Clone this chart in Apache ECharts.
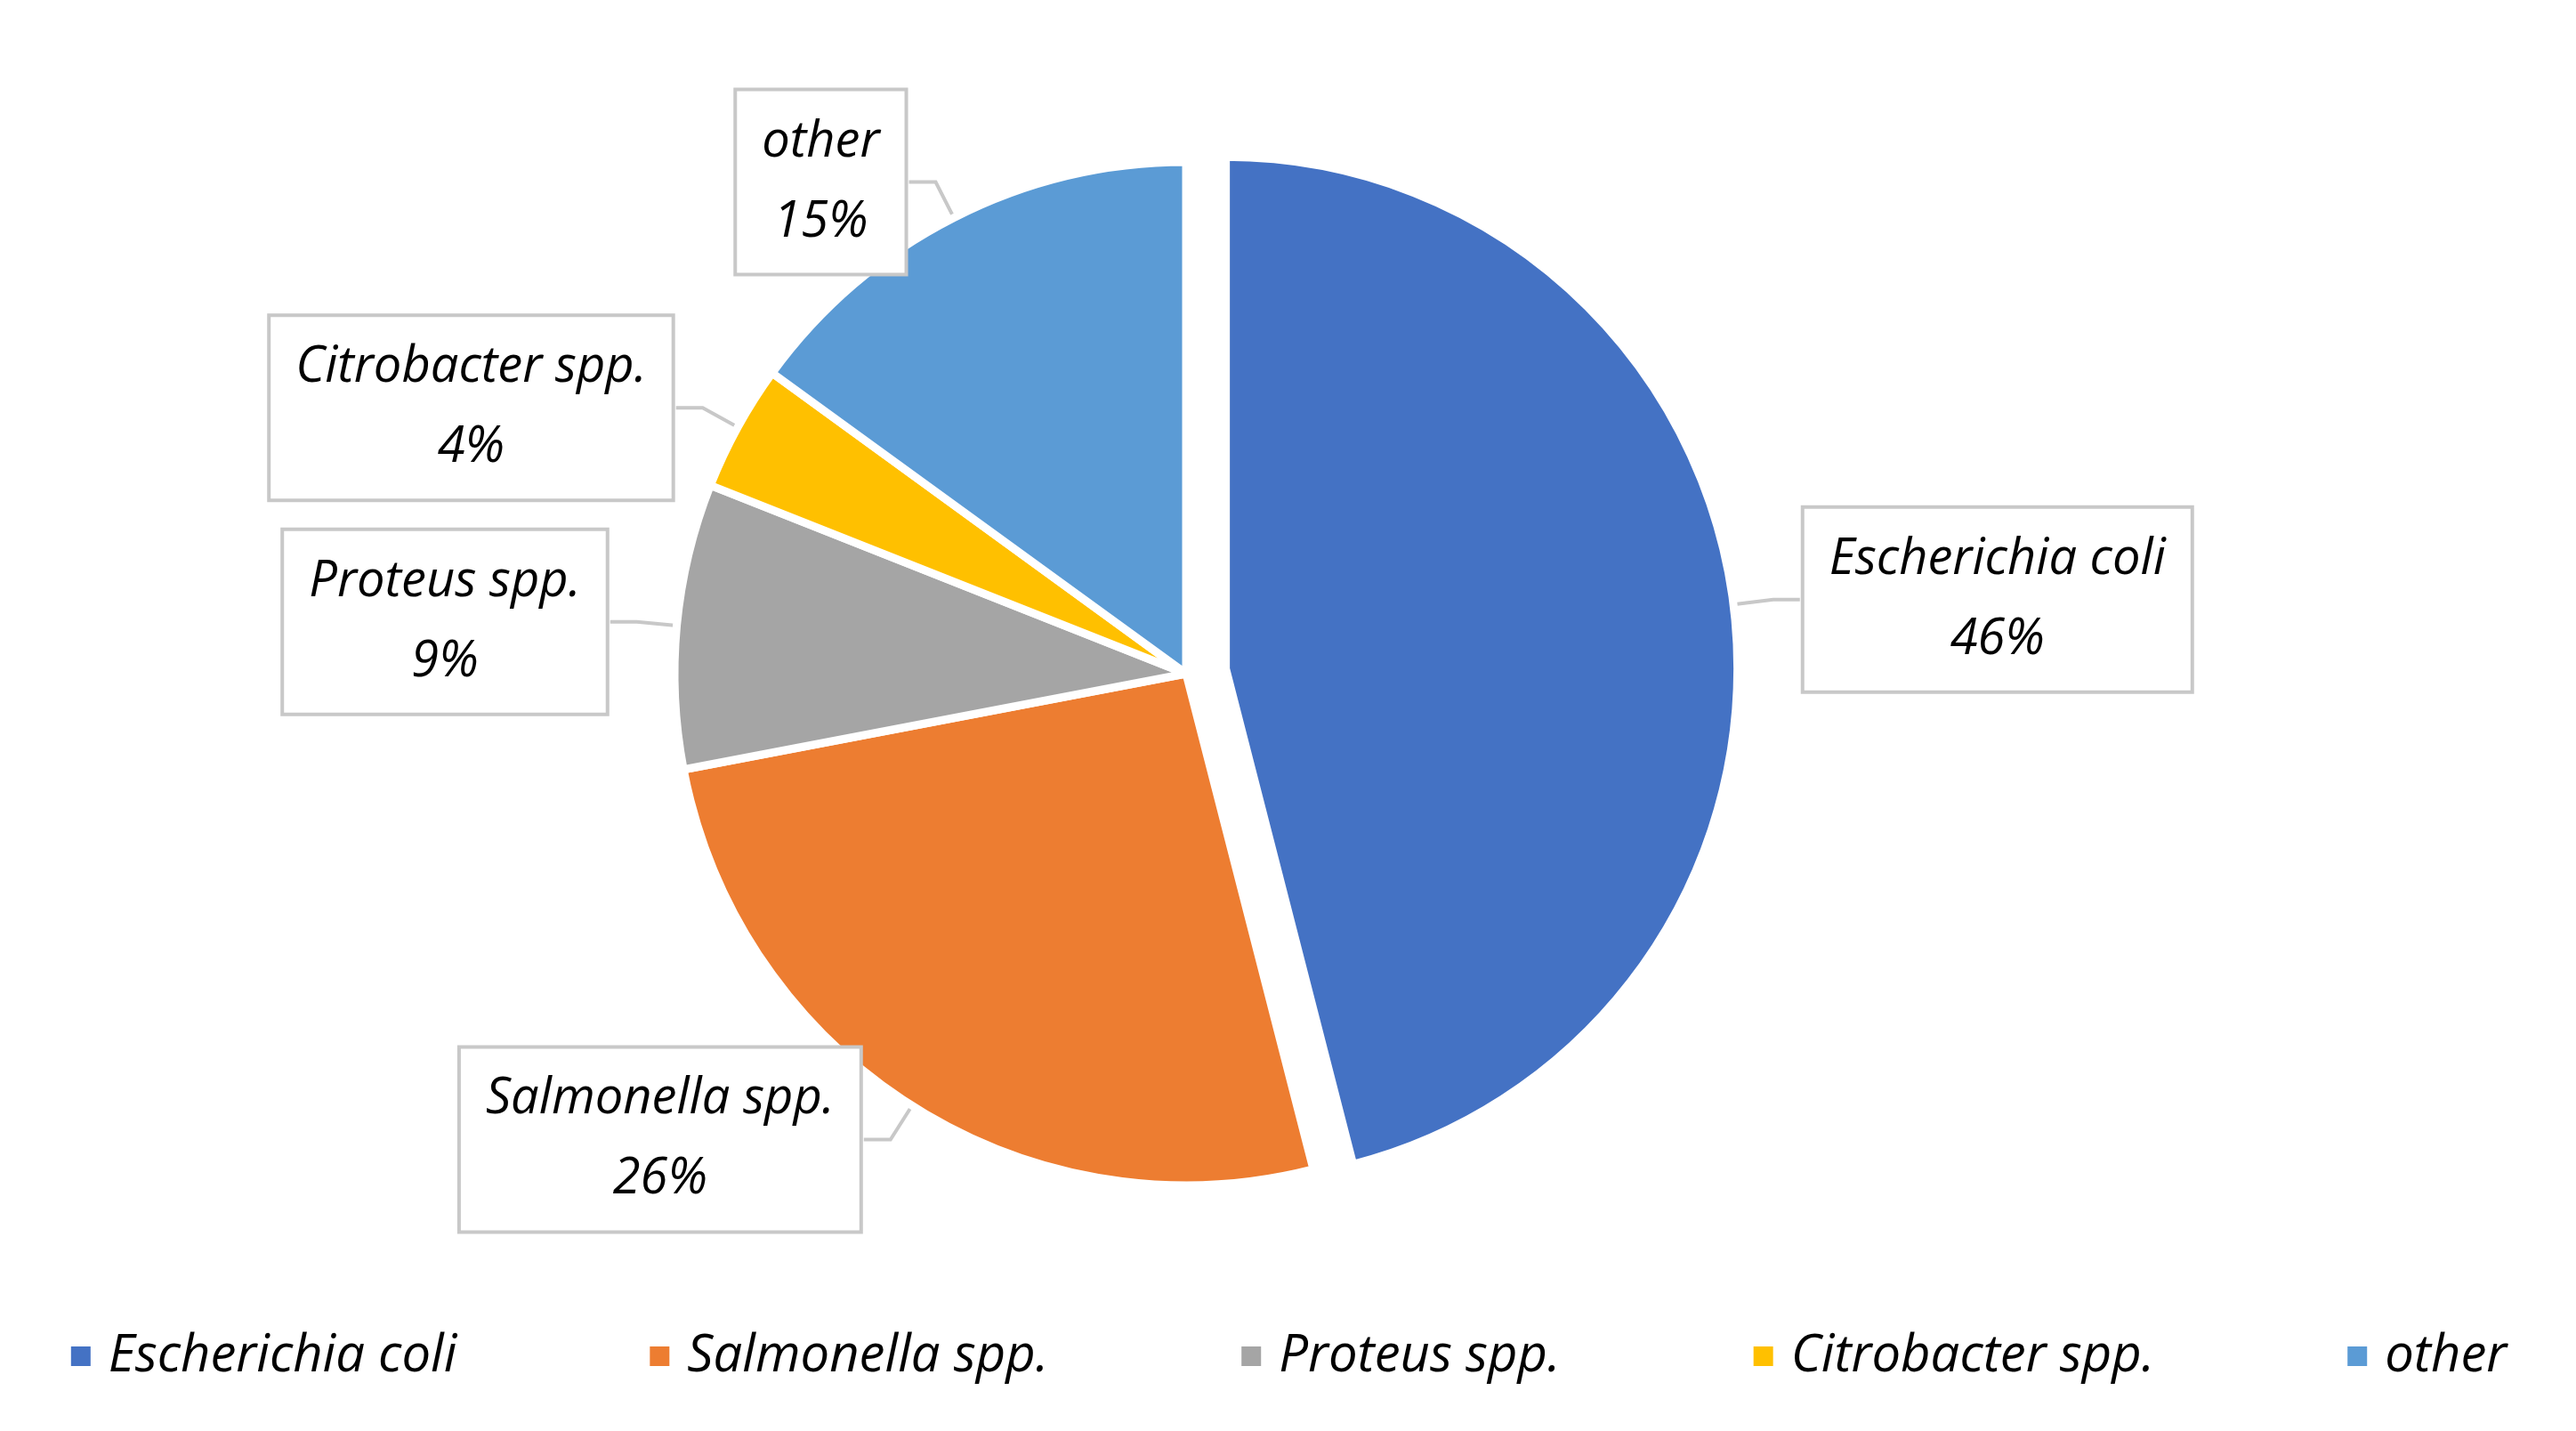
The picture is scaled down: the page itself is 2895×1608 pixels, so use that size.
<!DOCTYPE html>
<html><head><meta charset="utf-8">
<script src="https://cdn.jsdelivr.net/npm/echarts@6/dist/echarts.min.js"></script>
<style>html,body{margin:0;padding:0;background:#fff}#c{width:2895px;height:1608px}</style>
</head><body><div id="c"></div>
<script>
const categories = ["Escherichia coli","Salmonella spp.","Proteus spp.","Citrobacter spp.","other"];
const values = [46, 26, 9, 4, 15];
const colors = ["#4472C4","#ED7D31","#A5A5A5","#FFC000","#5B9BD5"];
const chart = echarts.init(document.getElementById('c'));
chart.setOption({
  animation:false,
  color: colors,
  legend:{
    bottom: 50, left: 'center', itemWidth: 24, itemHeight: 24, itemGap: 215, icon:'rect',
    textStyle:{fontFamily:'Open Sans', fontStyle:'italic', fontSize:58, color:'#000', padding:[0,0,0,14]},
    data: categories
  },
  series:[{
    type:'pie', center:[1333,757], radius:[0,575], startAngle:90, clockwise:true,
    selectedMode:'single', selectedOffset:45,
    itemStyle:{borderColor:'#fff', borderWidth:9},
    label:{
      position:'outside', formatter:'{a|{b}}\n{a|{d}%}',
      rich:{a:{fontFamily:'Open Sans', fontStyle:'italic', fontSize:56, lineHeight:90, color:'#000', align:'center'}},
      backgroundColor:'#fff', borderColor:'#c8c8c8', borderWidth:4, padding:[12,28]
    },
    labelLine:{show:true, length:45, length2:30, lineStyle:{color:'#c8c8c8', width:4}},
    data: categories.map((n,i)=>({name:n, value:values[i], selected:i===0}))
  }]
});
</script></body></html>
